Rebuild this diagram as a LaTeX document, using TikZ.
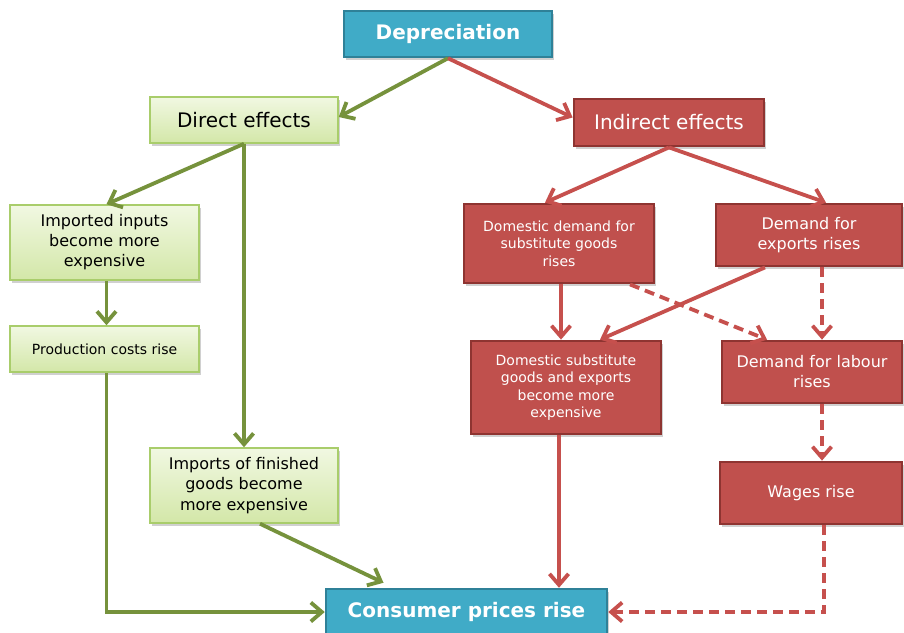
\documentclass[tikz,border=0pt]{standalone}
\usepackage{fontspec}
\setmainfont{DejaVu Sans}
\usetikzlibrary{arrows.meta,shadows,calc}
\definecolor{tealfill}{HTML}{40ABC7}
\definecolor{tealdraw}{HTML}{2F8198}
\definecolor{redfill}{HTML}{C0504D}
\definecolor{reddraw}{HTML}{8E3431}
\definecolor{greentop}{HTML}{F1F8E2}
\definecolor{greenbot}{HTML}{D3E7A8}
\definecolor{greendraw}{HTML}{A9CD6B}
\definecolor{garrow}{HTML}{76923C}
\definecolor{rarrow}{HTML}{C6504D}
\tikzset{
  boxshadow/.style={drop shadow={shadow xshift=1.5pt,shadow yshift=-2.5pt,opacity=0.3,fill=black!60}},
  tealbox/.style={rectangle,fill=tealfill,draw=tealdraw,line width=2.5pt,text=white,font=\bfseries\fontsize{20}{24}\selectfont,boxshadow,inner sep=0pt},
  greenbox/.style={rectangle,top color=greentop,bottom color=greenbot,draw=greendraw,line width=1.5pt,text=black,align=center,boxshadow,inner sep=0pt},
  redbox/.style={rectangle,fill=redfill,draw=reddraw,line width=2.8pt,text=white,align=center,boxshadow,inner sep=0pt},
  garr/.style={draw=garrow,line width=3.8pt,-{Straight Barb[length=11pt,width=19pt]}},
  rarr/.style={draw=rarrow,line width=3.8pt,-{Straight Barb[length=11pt,width=19pt]}},
  rdash/.style={rarr,dash pattern=on 10pt off 6pt},
}
\begin{document}
\begin{tikzpicture}[x=1pt,y=-1pt]
\useasboundingbox[fill=white] (0,0) rectangle (904,632);
% boxes
\node[tealbox,minimum width=208pt,minimum height=46pt] (dep) at (448,34) {Depreciation};
\node[greenbox,minimum width=188pt,minimum height=46pt,font=\fontsize{20}{24}\selectfont] (direct) at (244,120) {Direct effects};
\node[redbox,minimum width=190pt,minimum height=47pt,font=\fontsize{20}{24}\selectfont] (indirect) at (669,122.5) {Indirect effects};
\node[greenbox,minimum width=189pt,minimum height=75pt,font=\fontsize{16}{20}\selectfont] (imported) at (104.5,242.5) {Imported inputs\\become more\\expensive};
\node[greenbox,minimum width=189pt,minimum height=46pt,font=\fontsize{14}{17}\selectfont] (production) at (104.5,349) {Production costs rise};
\node[greenbox,minimum width=188pt,minimum height=75pt,font=\fontsize{16}{20.5}\selectfont] (finished) at (244,485.5) {Imports of finished\\goods become\\more expensive};
\node[redbox,minimum width=190pt,minimum height=79pt,font=\fontsize{14}{17.5}\selectfont] (domdem) at (559,243.5) {Domestic demand for\\substitute goods\\rises};
\node[redbox,minimum width=186pt,minimum height=62pt,font=\fontsize{16}{20}\selectfont] (exports) at (809,235) {Demand for\\exports rises};
\node[redbox,minimum width=190pt,minimum height=93pt,font=\fontsize{14}{17.5}\selectfont] (domsub) at (566,387.5) {Domestic substitute\\goods and exports\\become more\\expensive};
\node[redbox,minimum width=180pt,minimum height=62pt,font=\fontsize{16}{20}\selectfont] (labour) at (812,372) {Demand for labour\\rises};
\node[redbox,minimum width=182pt,minimum height=62pt,font=\fontsize{16}{20}\selectfont] (wages) at (811,493) {Wages rise};
\node[tealbox,minimum width=281pt,minimum height=46pt] (consumer) at (466.5,612) {Consumer prices rise};
% green connectors
\draw[garr] (dep.south) -- ([yshift=3pt]direct.east);
\draw[garr] (direct.south) -- ([xshift=2pt]imported.north);
\draw[garr] (direct.south) -- (finished.north);
\draw[garr] ([xshift=2pt]imported.south) -- ([xshift=2pt]production.north);
\draw[garr] ([xshift=2pt]production.south) |- (consumer.west);
\draw[garr] ([xshift=16pt]finished.south) -- ([xshift=-83pt,yshift=5pt]consumer.north);
% red connectors
\draw[rarr] (dep.south) -- ([yshift=5pt]indirect.west);
\draw[rarr] (indirect.south) -- ([xshift=-14pt]domdem.north);
\draw[rarr] (indirect.south) -- ([xshift=17pt]exports.north);
\draw[rarr] ([xshift=2pt]domdem.south) -- ([xshift=-5pt]domsub.north);
\draw[rarr] ([xshift=-44pt]exports.south) -- ([xshift=34pt]domsub.north);
\draw[rdash] ([xshift=71pt]domdem.south) -- ([xshift=-45pt]labour.north);
\draw[rdash] ([xshift=13pt]exports.south) -- ([xshift=10pt]labour.north);
\draw[rarr] ([xshift=-7pt]domsub.south) -- ([xshift=92.5pt]consumer.north);
\draw[rdash] ([xshift=10pt]labour.south) -- ([xshift=11pt]wages.north);
\draw[rdash] ([xshift=13pt]wages.south) |- (consumer.east);
\end{tikzpicture}
\end{document}
